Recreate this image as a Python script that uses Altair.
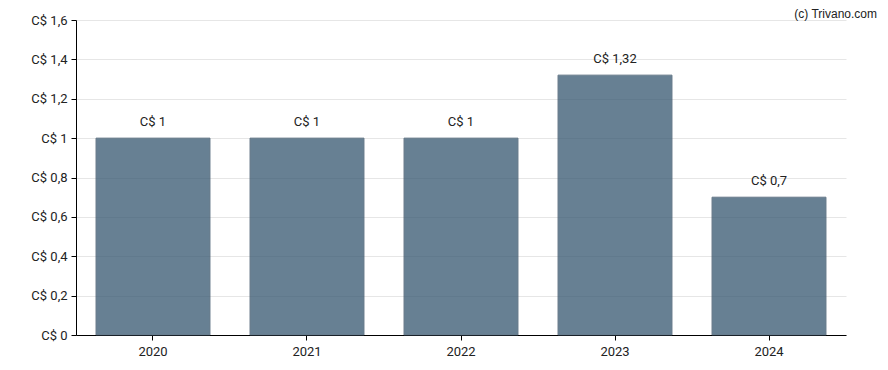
import altair as alt
import pandas as pd

years = ["2020", "2021", "2022", "2023", "2024"]
values = [1.0, 1.0, 1.0, 1.32, 0.7]
labels = ["C$ 1", "C$ 1", "C$ 1", "C$ 1,32", "C$ 0,7"]
y_ticks = [0, 0.2, 0.4, 0.6, 0.8, 1.0, 1.2, 1.4, 1.6]
credit = ["(c) Trivano.com"]

df = pd.DataFrame({"year": years, "value": values, "label": labels})

base = alt.Chart(df).encode(
    x=alt.X("year:N", title=None,
            scale=alt.Scale(paddingInner=0.26, paddingOuter=0.13),
            axis=alt.Axis(labelAngle=0, grid=False, domainColor="#000", tickColor="#000",
                          tickSize=5, labelFontSize=13, labelColor="#222", labelPadding=5,
                          labelFont="Roboto")),
    y=alt.Y("value:Q", title=None,
            scale=alt.Scale(domain=[0, 1.6], nice=False),
            axis=alt.Axis(values=y_ticks, gridColor="#e6e6e6", domainColor="#000", tickColor="#000",
                          tickSize=5, labelFontSize=13, labelColor="#222", labelPadding=4,
                          labelFont="Roboto",
                          labelExpr="'C$ ' + replace(format(datum.value, '~g'), '.', ',')")),
)

bars = base.mark_bar(color="#3d5d75", opacity=0.78, stroke="#3e566a", strokeWidth=1, strokeOpacity=1)
text = base.mark_text(baseline="bottom", dy=-9, fontSize=13, font="Roboto", color="#222").encode(text="label:N")

credit_text = alt.Chart(pd.DataFrame({"t": credit})).mark_text(
    align="right", baseline="middle", fontSize=12, font="Liberation Sans", color="#222"
).encode(text="t:N", x=alt.value(801), y=alt.value(-6))

chart = (bars + text + credit_text).properties(
    width=770, height=315,
    padding={"left": 68, "top": 12, "right": 34, "bottom": 40},
    autosize=alt.AutoSizeParams(type="none"),
).configure_view(stroke=None)

chart.save("out.html", embed_options={"renderer": "svg", "actions": False})
